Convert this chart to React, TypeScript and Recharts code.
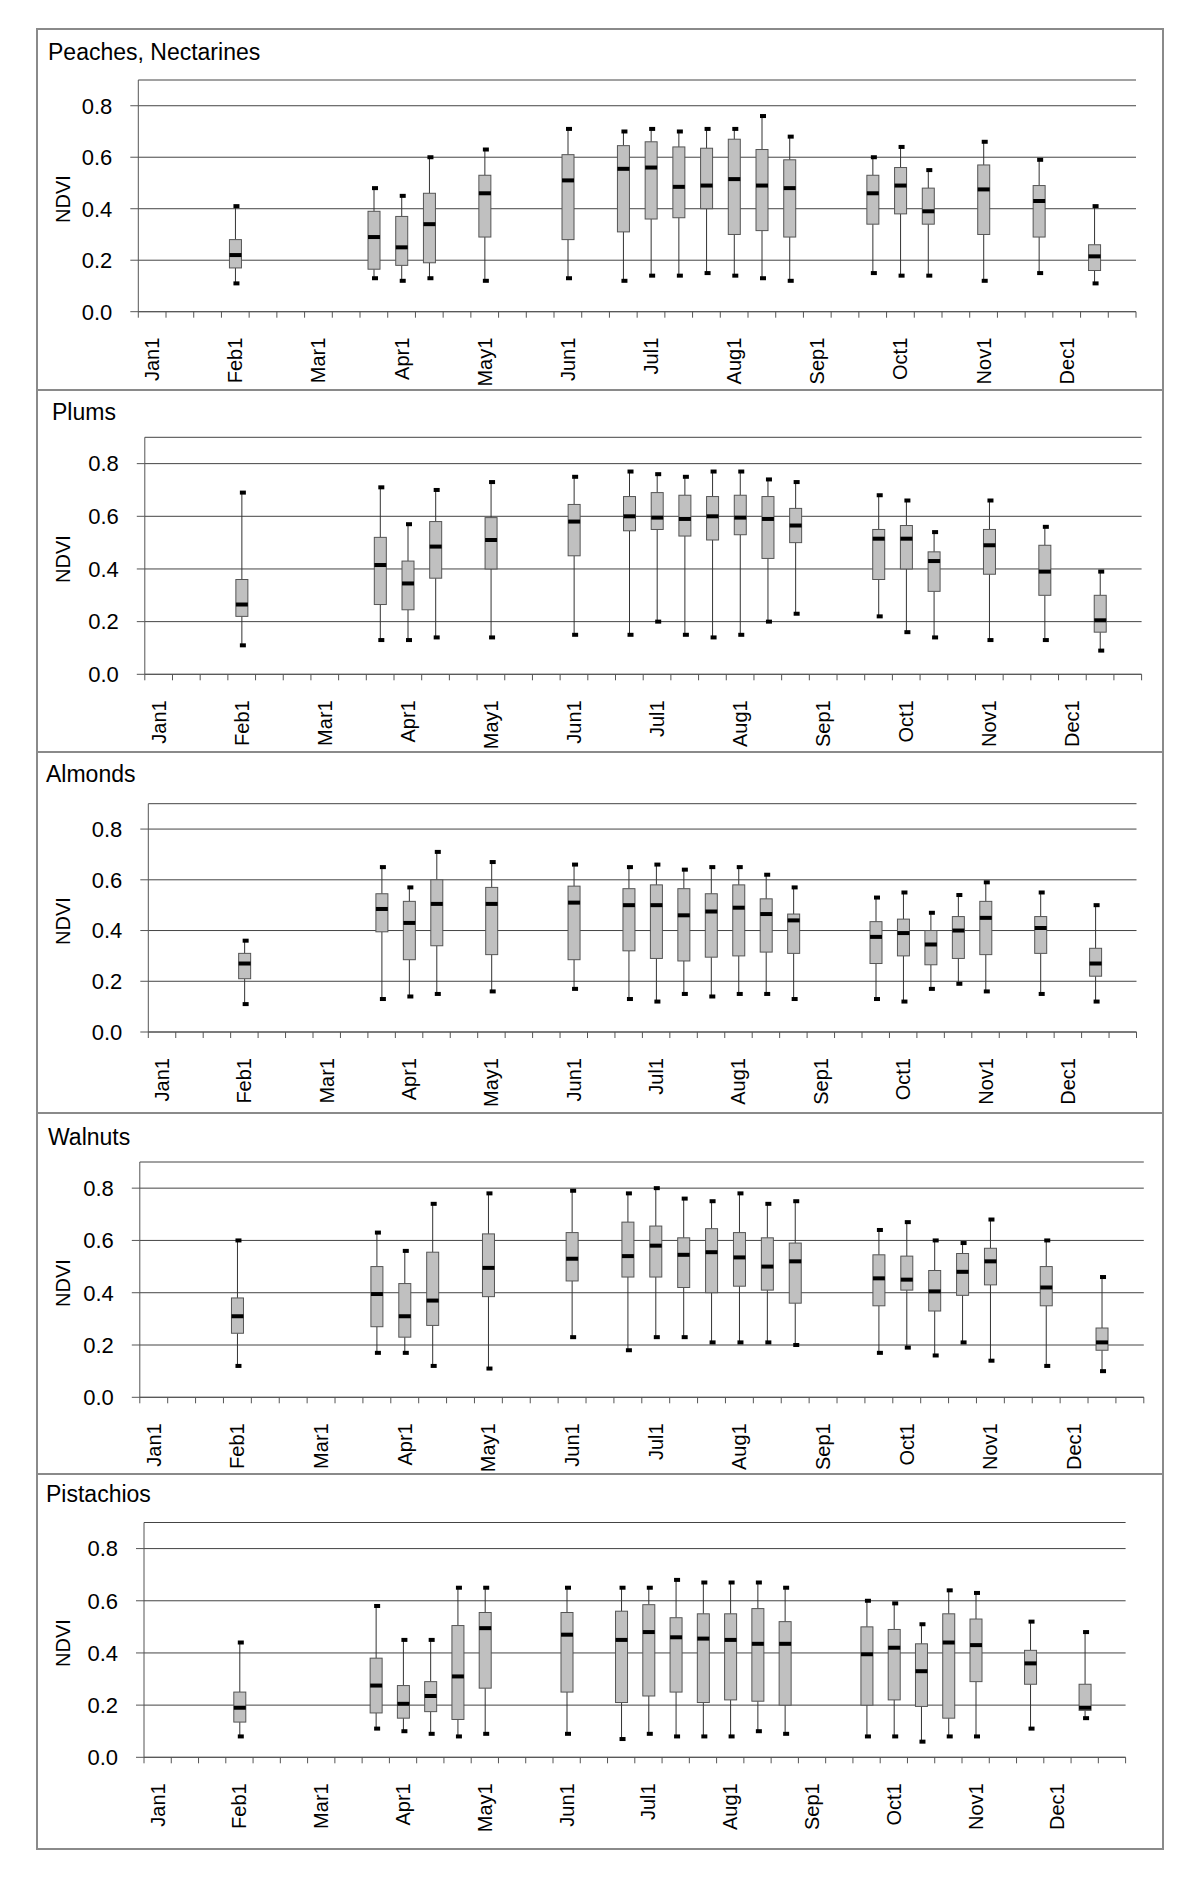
import React from "react";
import { Bar, CartesianGrid, ComposedChart, XAxis, YAxis } from "recharts";

const months = ["Jan", "Feb", "Mar", "Apr", "May", "Jun", "Jul", "Aug", "Sep", "Oct", "Nov", "Dec"];
const slotDays = [1, 11, 21];
const slots = months.flatMap((m) => slotDays.map((d) => `${m}${d}`));
const yTicks = [0, 0.2, 0.4, 0.6, 0.8];

// [slot index, min, q1, median, q3, max]
type BoxRow = [number, number, number, number, number, number];

const peaches: BoxRow[] = [
  [3, 0.11, 0.17, 0.22, 0.28, 0.41],
  [8, 0.13, 0.165, 0.29, 0.39, 0.48],
  [9, 0.12, 0.18, 0.25, 0.37, 0.45],
  [10, 0.13, 0.19, 0.34, 0.46, 0.6],
  [12, 0.12, 0.29, 0.46, 0.53, 0.63],
  [15, 0.13, 0.28, 0.51, 0.61, 0.71],
  [17, 0.12, 0.31, 0.555, 0.645, 0.7],
  [18, 0.14, 0.36, 0.56, 0.66, 0.71],
  [19, 0.14, 0.365, 0.485, 0.64, 0.7],
  [20, 0.15, 0.4, 0.49, 0.635, 0.71],
  [21, 0.14, 0.3, 0.515, 0.67, 0.71],
  [22, 0.13, 0.315, 0.49, 0.63, 0.76],
  [23, 0.12, 0.29, 0.48, 0.59, 0.68],
  [26, 0.15, 0.34, 0.46, 0.53, 0.6],
  [27, 0.14, 0.38, 0.49, 0.56, 0.64],
  [28, 0.14, 0.34, 0.39, 0.48, 0.55],
  [30, 0.12, 0.3, 0.475, 0.57, 0.66],
  [32, 0.15, 0.29, 0.43, 0.49, 0.59],
  [34, 0.11, 0.16, 0.215, 0.26, 0.41],
];

const plums: BoxRow[] = [
  [3, 0.11, 0.22, 0.265, 0.36, 0.69],
  [8, 0.13, 0.265, 0.415, 0.52, 0.71],
  [9, 0.13, 0.245, 0.345, 0.43, 0.57],
  [10, 0.14, 0.365, 0.485, 0.58, 0.7],
  [12, 0.14, 0.4, 0.51, 0.595, 0.73],
  [15, 0.15, 0.45, 0.58, 0.645, 0.75],
  [17, 0.15, 0.545, 0.6, 0.675, 0.77],
  [18, 0.2, 0.55, 0.595, 0.69, 0.76],
  [19, 0.15, 0.525, 0.59, 0.68, 0.75],
  [20, 0.14, 0.51, 0.6, 0.675, 0.77],
  [21, 0.15, 0.53, 0.595, 0.68, 0.77],
  [22, 0.2, 0.44, 0.59, 0.675, 0.74],
  [23, 0.23, 0.5, 0.565, 0.63, 0.73],
  [26, 0.22, 0.36, 0.515, 0.55, 0.68],
  [27, 0.16, 0.4, 0.515, 0.565, 0.66],
  [28, 0.14, 0.315, 0.43, 0.465, 0.54],
  [30, 0.13, 0.38, 0.49, 0.55, 0.66],
  [32, 0.13, 0.3, 0.39, 0.49, 0.56],
  [34, 0.09, 0.16, 0.205, 0.3, 0.39],
];

const almonds: BoxRow[] = [
  [3, 0.11, 0.21, 0.27, 0.31, 0.36],
  [8, 0.13, 0.395, 0.485, 0.545, 0.65],
  [9, 0.14, 0.285, 0.43, 0.515, 0.57],
  [10, 0.15, 0.34, 0.505, 0.6, 0.71],
  [12, 0.16, 0.305, 0.505, 0.57, 0.67],
  [15, 0.17, 0.285, 0.51, 0.575, 0.66],
  [17, 0.13, 0.32, 0.5, 0.565, 0.65],
  [18, 0.12, 0.29, 0.5, 0.58, 0.66],
  [19, 0.15, 0.28, 0.46, 0.565, 0.64],
  [20, 0.14, 0.295, 0.475, 0.545, 0.65],
  [21, 0.15, 0.3, 0.49, 0.58, 0.65],
  [22, 0.15, 0.315, 0.465, 0.525, 0.62],
  [23, 0.13, 0.31, 0.44, 0.465, 0.57],
  [26, 0.13, 0.27, 0.375, 0.435, 0.53],
  [27, 0.12, 0.3, 0.39, 0.445, 0.55],
  [28, 0.17, 0.265, 0.345, 0.4, 0.47],
  [29, 0.19, 0.29, 0.4, 0.455, 0.54],
  [30, 0.16, 0.305, 0.45, 0.515, 0.59],
  [32, 0.15, 0.31, 0.41, 0.455, 0.55],
  [34, 0.12, 0.22, 0.27, 0.33, 0.5],
];

const walnuts: BoxRow[] = [
  [3, 0.12, 0.245, 0.31, 0.38, 0.6],
  [8, 0.17, 0.27, 0.395, 0.5, 0.63],
  [9, 0.17, 0.23, 0.31, 0.435, 0.56],
  [10, 0.12, 0.275, 0.37, 0.555, 0.74],
  [12, 0.11, 0.385, 0.495, 0.625, 0.78],
  [15, 0.23, 0.445, 0.53, 0.63, 0.79],
  [17, 0.18, 0.46, 0.54, 0.67, 0.78],
  [18, 0.23, 0.46, 0.58, 0.655, 0.8],
  [19, 0.23, 0.42, 0.545, 0.61, 0.76],
  [20, 0.21, 0.4, 0.555, 0.645, 0.75],
  [21, 0.21, 0.425, 0.535, 0.63, 0.78],
  [22, 0.21, 0.41, 0.5, 0.61, 0.74],
  [23, 0.2, 0.36, 0.52, 0.59, 0.75],
  [26, 0.17, 0.35, 0.455, 0.545, 0.64],
  [27, 0.19, 0.41, 0.45, 0.54, 0.67],
  [28, 0.16, 0.33, 0.405, 0.485, 0.6],
  [29, 0.21, 0.39, 0.48, 0.55, 0.59],
  [30, 0.14, 0.43, 0.52, 0.57, 0.68],
  [32, 0.12, 0.35, 0.42, 0.5, 0.6],
  [34, 0.1, 0.18, 0.21, 0.265, 0.46],
];

const pistachios: BoxRow[] = [
  [3, 0.08, 0.135, 0.19, 0.25, 0.44],
  [8, 0.11, 0.17, 0.275, 0.38, 0.58],
  [9, 0.1, 0.15, 0.205, 0.275, 0.45],
  [10, 0.09, 0.175, 0.235, 0.29, 0.45],
  [11, 0.08, 0.145, 0.31, 0.505, 0.65],
  [12, 0.09, 0.265, 0.495, 0.555, 0.65],
  [15, 0.09, 0.25, 0.47, 0.555, 0.65],
  [17, 0.07, 0.21, 0.45, 0.56, 0.65],
  [18, 0.09, 0.235, 0.48, 0.585, 0.65],
  [19, 0.08, 0.25, 0.46, 0.535, 0.68],
  [20, 0.08, 0.21, 0.455, 0.55, 0.67],
  [21, 0.08, 0.22, 0.45, 0.55, 0.67],
  [22, 0.1, 0.215, 0.435, 0.57, 0.67],
  [23, 0.09, 0.2, 0.435, 0.52, 0.65],
  [26, 0.08, 0.2, 0.395, 0.5, 0.6],
  [27, 0.08, 0.22, 0.42, 0.49, 0.59],
  [28, 0.06, 0.195, 0.33, 0.435, 0.51],
  [29, 0.08, 0.15, 0.44, 0.55, 0.64],
  [30, 0.08, 0.29, 0.43, 0.53, 0.63],
  [32, 0.11, 0.28, 0.36, 0.41, 0.52],
  [34, 0.15, 0.18, 0.19, 0.28, 0.48],
];

const FONT = '"Liberation Sans", Arial, Helvetica, sans-serif';
const AXIS = "#555";
const GRID = "#444";
const FRAME_COLOR = "#8a8a8a";
const BOX_FILL = "#c0c0c0";

const FRAME = { x: 36, y: 28, w: 1128, h: 1822, border: 2 };
const INNER_X = FRAME.x + FRAME.border;
const INNER_Y = FRAME.y + FRAME.border;
const CHART_W = FRAME.w - 2 * FRAME.border;

// page-pixel layout of each panel
const panels = [
  { title: "Peaches, Nectarines", rows: peaches, top: 30, bottom: 390, yTop: 80, yZero: 311.7, xLeft: 138.3, xRight: 1136, titleX: 48, titleY: 53 },
  { title: "Plums", rows: plums, top: 390, bottom: 752, yTop: 437.3, yZero: 674.3, xLeft: 144.8, xRight: 1141.6, titleX: 52, titleY: 413 },
  { title: "Almonds", rows: almonds, top: 752, bottom: 1113, yTop: 803.7, yZero: 1032, xLeft: 148.3, xRight: 1136.5, titleX: 46, titleY: 775 },
  { title: "Walnuts", rows: walnuts, top: 1113, bottom: 1474, yTop: 1162, yZero: 1397.3, xLeft: 139.8, xRight: 1143.8, titleX: 48, titleY: 1138 },
  { title: "Pistachios", rows: pistachios, top: 1474, bottom: 1848, yTop: 1522.5, yZero: 1757.3, xLeft: 144, xRight: 1125.6, titleX: 46, titleY: 1495 },
];

function buildData(rows: BoxRow[]) {
  return slots.map((slot, i) => {
    const r = rows.find((row) => row[0] === i);
    const box = r ? { min: r[1], q1: r[2], med: r[3], q3: r[4], max: r[5] } : null;
    return { slot, box, range: box ? [box.min, box.max] : null };
  });
}

function BoxShape(props: any) {
  const { x, y, width, height, payload } = props;
  const b = payload && payload.box;
  if (!b || !Number.isFinite(x) || !Number.isFinite(y) || !Number.isFinite(height)) return <g />;
  const top = Math.min(y, y + height);
  const bottom = Math.max(y, y + height);
  const py = (v: number) => top + ((b.max - v) / (b.max - b.min)) * (bottom - top);
  const cx = x + width / 2;
  const yq3 = py(b.q3);
  const yq1 = py(b.q1);
  const ymed = py(b.med);
  return (
    <g>
      <line x1={cx} x2={cx} y1={top} y2={yq3} stroke="#333" strokeWidth={1} />
      <line x1={cx} x2={cx} y1={yq1} y2={bottom} stroke="#333" strokeWidth={1} />
      <rect x={x} y={yq3} width={width} height={yq1 - yq3} fill={BOX_FILL} stroke="#555" strokeWidth={1} />
      <rect x={x} y={ymed - 2} width={width} height={4} fill="#000" />
      <rect x={cx - 2} y={top - 2} width={6} height={4} fill="#000" />
      <rect x={cx - 2} y={bottom - 2} width={6} height={4} fill="#000" />
    </g>
  );
}

function SlotTick(props: any) {
  const { x, y, payload, band } = props;
  const i = payload.index;
  const half = band / 2;
  return (
    <g>
      <line x1={x - half} x2={x - half} y1={y} y2={y + 6} stroke={AXIS} strokeWidth={1} />
      {i === slots.length - 1 && <line x1={x + half} x2={x + half} y1={y} y2={y + 6} stroke={AXIS} strokeWidth={1} />}
      {i % 3 === 0 && (
        <text
          x={x}
          y={y + 26}
          dy="0.35em"
          transform={`rotate(-90, ${x}, ${y + 26})`}
          textAnchor="end"
          fontSize={20}
          fill="#000"
        >
          {payload.value}
        </text>
      )}
    </g>
  );
}

function Panel({ p, index }: { p: (typeof panels)[number]; index: number }) {
  const H = p.bottom - p.top;
  const plotH = p.yZero - p.yTop;
  const marginTop = p.yTop - p.top;
  const xAxisH = H - marginTop - plotH;
  const band = (p.xRight - p.xLeft) / slots.length;
  const data = buildData(p.rows);
  return (
    <div style={{ position: "absolute", left: 0, top: p.top - INNER_Y, width: CHART_W, height: H }}>
      <ComposedChart
        width={CHART_W}
        height={H}
        data={data}
        margin={{ top: marginTop, right: INNER_X + CHART_W - p.xRight, bottom: 0, left: 0 }}
      >
        <CartesianGrid horizontal vertical={false} stroke={GRID} strokeWidth={1} />
        <XAxis
          dataKey="slot"
          type="category"
          interval={0}
          height={xAxisH}
          tickSize={0}
          tickMargin={0}
          tickLine={false}
          axisLine={{ stroke: AXIS, strokeWidth: 1 }}
          tick={<SlotTick band={band} />}
        />
        <YAxis
          type="number"
          domain={[0, 0.9]}
          ticks={yTicks}
          allowDataOverflow
          width={p.xLeft - INNER_X}
          tickSize={8}
          tickMargin={18}
          tickFormatter={(v: number) => v.toFixed(1)}
          axisLine={{ stroke: AXIS, strokeWidth: 1 }}
          tickLine={{ stroke: AXIS, strokeWidth: 1 }}
          tick={{ fontSize: 22, fill: "#000" }}
        />
        <Bar dataKey="range" barSize={12} shape={(s: any) => <BoxShape {...s} />} isAnimationActive={false} />
      </ComposedChart>
      <div
        style={{
          position: "absolute",
          left: p.titleX - INNER_X,
          top: p.titleY - p.top - 12,
          fontSize: 23,
          lineHeight: "23px",
          whiteSpace: "nowrap",
          color: "#000",
        }}
      >
        {p.title}
      </div>
      <div
        style={{
          position: "absolute",
          left: 63 - INNER_X,
          top: (p.yTop + p.yZero) / 2 + 3 - p.top,
          fontSize: 20,
          lineHeight: "20px",
          whiteSpace: "nowrap",
          transform: "translate(-50%, -50%) rotate(-90deg)",
          color: "#000",
        }}
      >
        NDVI
      </div>
      {index > 0 && (
        <div style={{ position: "absolute", left: 0, top: -1, width: CHART_W, height: 2, background: FRAME_COLOR }} />
      )}
    </div>
  );
}

export default function App() {
  return (
    <div
      style={{
        position: "absolute",
        left: FRAME.x,
        top: FRAME.y,
        width: FRAME.w,
        height: FRAME.h,
        boxSizing: "border-box",
        border: `${FRAME.border}px solid ${FRAME_COLOR}`,
        background: "#fff",
        fontFamily: FONT,
      }}
    >
      {panels.map((p, i) => (
        <Panel key={p.title} p={p} index={i} />
      ))}
    </div>
  );
}
